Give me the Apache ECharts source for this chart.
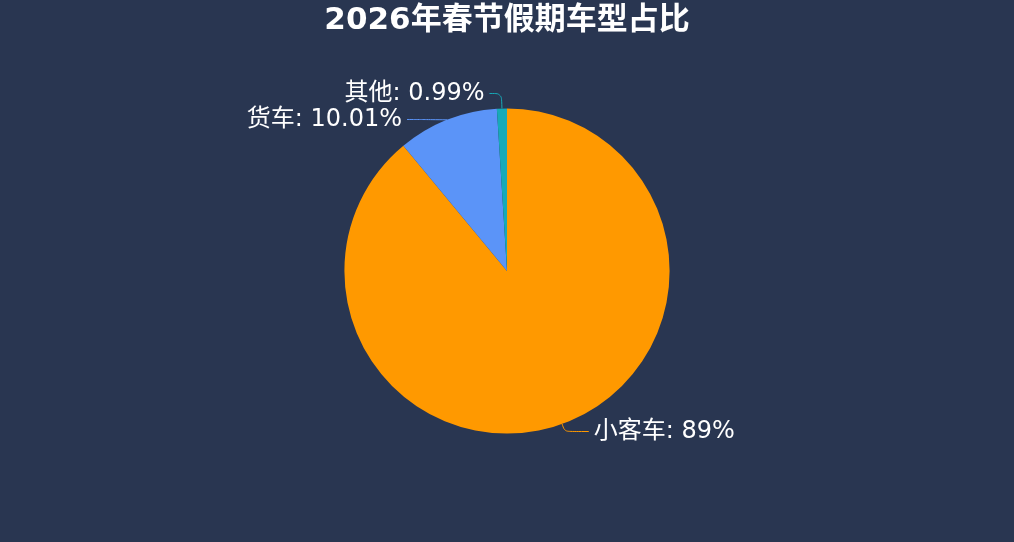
<!DOCTYPE html>
<html>
<head>
<meta charset="utf-8">
<script src="https://cdn.jsdelivr.net/npm/echarts@6/dist/echarts.min.js"></script>
<style>
html,body{margin:0;padding:0;background:#293651;}
#main{width:1014px;height:542px;}
</style>
</head>
<body>
<div id="main"></div>
<script>
// 车型数据
var names = ['小客车', '货车', '其他']
var values = [89, 10.01, 0.99]
var colors = ['#ff9900', '#5b94f8', '#17aab8']

var chart = echarts.init(document.getElementById('main'))

var pieData = []
for (let i = 0; i < names.length; i++) {
	let item = { name: names[i], value: values[i], itemStyle: { color: colors[i] } }
	//小客车的引导线短一些
	if (i == 0) {
		item.labelLine = { length: 8, length2: 24 }
	}
	pieData.push(item)
}

var option = {
	backgroundColor: '#293651',
	title: {
		text: '2026年春节假期车型占比',
		left: 'center',
		top: 0,
		textStyle: {
			color: '#ffffff',
			fontSize: 31,
			fontWeight: 'bold',
			fontFamily: '"DejaVu Sans", "Noto Sans CJK SC"'
		}
	},
	series: [{
		type: 'pie',
		radius: '60%',
		center: ['50%', '50%'],
		startAngle: 90,
		data: pieData,
		label: {
			show: true,
			color: '#ffffff',
			fontSize: 24,
			fontFamily: '"DejaVu Sans", "Noto Sans CJK SC"',
			formatter: function(p) {
				return p.name + ': ' + p.value + '%'
			}
		},
		labelLine: {
			length: 15,
			length2: 12,
			smooth: 0.3
		}
	}]
}
chart.setOption(option)
</script>
</body>
</html>
